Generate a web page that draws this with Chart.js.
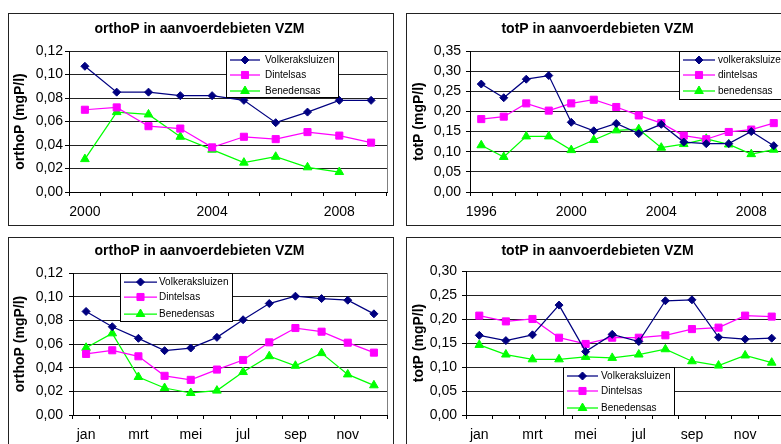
<!DOCTYPE html>
<html>
<head>
<meta charset="utf-8">
<script src="https://cdn.jsdelivr.net/npm/chart.js@4"></script>
<style>
  html, body { margin: 0; padding: 0; background: #fff; overflow: hidden; width: 781px; height: 444px; }
  .panel { position: absolute; border: 1px solid #222; background: #fff; }
  .panel canvas { display: block; }
</style>
</head>
<body>
<div class="panel" style="left:8px;top:13px;"><canvas id="c1" width="384" height="211"></canvas></div>
<div class="panel" style="left:406px;top:13px;"><canvas id="c2" width="384" height="211"></canvas></div>
<div class="panel" style="left:8px;top:237px;"><canvas id="c3" width="384" height="211"></canvas></div>
<div class="panel" style="left:406px;top:237px;"><canvas id="c4" width="384" height="211"></canvas></div>
<script>
// jaargemiddelden orthoP
const jaren1 = ['2000', '2001', '2002', '2003', '2004', '2005', '2006', '2007', '2008', '2009'];
const volk1 = [0.107, 0.085, 0.085, 0.082, 0.082, 0.078, 0.059, 0.068, 0.078, 0.078];
const dint1 = [0.070, 0.072, 0.056, 0.054, 0.038, 0.047, 0.045, 0.051, 0.048, 0.042];
const bene1 = [0.028, 0.068, 0.066, 0.047, 0.036, 0.025, 0.030, 0.021, 0.017, null];

// jaargemiddelden totP
const jaren2 = ['1996', '1997', '1998', '1999', '2000', '2001', '2002', '2003', '2004', '2005', '2006', '2007', '2008', '2009'];
const volk2 = [0.268, 0.234, 0.280, 0.289, 0.173, 0.152, 0.170, 0.145, 0.168, 0.124, 0.120, 0.120, 0.150, 0.115];
const dint2 = [0.181, 0.187, 0.220, 0.202, 0.220, 0.229, 0.211, 0.190, 0.171, 0.140, 0.131, 0.149, 0.155, 0.171];
const bene2 = [0.116, 0.087, 0.138, 0.138, 0.104, 0.129, 0.153, 0.156, 0.110, 0.119, 0.132, 0.118, 0.094, 0.105];

// maandgemiddelden
const maanden = ['jan', 'feb', 'mrt', 'apr', 'mei', 'jun', 'jul', 'aug', 'sep', 'okt', 'nov', 'dec'];
const volk3 = [0.0875, 0.0746, 0.0648, 0.0544, 0.0566, 0.0656, 0.0805, 0.0942, 0.1004, 0.0984, 0.0970, 0.0855];
const dint3 = [0.0516, 0.0547, 0.0496, 0.0331, 0.0297, 0.0384, 0.0465, 0.0614, 0.0735, 0.0704, 0.0611, 0.0527];
const bene3 = [0.0568, 0.0690, 0.0321, 0.0228, 0.0186, 0.0206, 0.0363, 0.0497, 0.0416, 0.0523, 0.0343, 0.0251];

const volk4 = [0.166, 0.155, 0.167, 0.229, 0.132, 0.168, 0.153, 0.238, 0.240, 0.162, 0.158, 0.160];
const dint4 = [0.207, 0.195, 0.200, 0.161, 0.148, 0.161, 0.161, 0.166, 0.179, 0.182, 0.207, 0.205];
const bene4 = [0.146, 0.126, 0.116, 0.116, 0.121, 0.119, 0.126, 0.137, 0.112, 0.103, 0.124, 0.109];

const namen = ['Volkeraksluizen', 'Dintelsas', 'Benedensas'];
const namenKlein = ['volkeraksluizen', 'dintelsas', 'benedensas'];

Chart.defaults.font.family = '"Liberation Sans", Arial, sans-serif';
Chart.defaults.color = '#000';

const stijlen = [
  { color: '#000080', point: 'rectRot', radius: 4 },
  { color: '#FF00FF', point: 'rect', radius: 5 },
  { color: '#00FF00', point: 'triangle', radius: 5 }
];

// right edge of the plot area (excel style)
const plotRand = {
  id: 'plotRand',
  beforeDatasetsDraw(chart) {
    const { ctx, chartArea: a } = chart;
    ctx.save();
    ctx.strokeStyle = '#808080';
    ctx.lineWidth = 1;
    ctx.beginPath();
    ctx.moveTo(Math.round(a.right) + 0.5, a.top);
    ctx.lineTo(Math.round(a.right) + 0.5, a.bottom);
    ctx.stroke();
    ctx.restore();
  }
};

// legend box inside the plot
const boxLegend = {
  id: 'boxLegend',
  afterDatasetsDraw(chart, args, o) {
    const ctx = chart.ctx;
    ctx.save();
    ctx.fillStyle = '#fff';
    ctx.fillRect(o.x, o.y, o.w, o.h);
    ctx.strokeStyle = '#000';
    ctx.lineWidth = 1;
    ctx.strokeRect(o.x + 0.5, o.y + 0.5, o.w, o.h);
    chart.data.datasets.forEach((ds, i) => {
      const y = o.rows[i];
      ctx.strokeStyle = ds.borderColor;
      ctx.lineWidth = 1.25;
      ctx.beginPath();
      ctx.moveTo(o.l1, y);
      ctx.lineTo(o.l2, y);
      ctx.stroke();
      ctx.fillStyle = ds.pointBackgroundColor;
      ctx.strokeStyle = ds.pointBorderColor;
      ctx.lineWidth = 1;
      Chart.helpers.drawPoint(ctx, { pointStyle: ds.pointStyle, radius: ds.pointRadius, borderWidth: 1, rotation: 0 }, (o.l1 + o.l2) / 2, y);
      ctx.fillStyle = '#000';
      ctx.font = '10px "Liberation Sans", Arial, sans-serif';
      ctx.textBaseline = 'middle';
      ctx.textAlign = 'left';
      ctx.fillText(ds.label, o.tx, y);
    });
    ctx.restore();
  }
};

function maakGrafiek(id, labels, reeksen, labelNamen, c) {
  new Chart(document.getElementById(id), {
    type: 'line',
    data: {
      labels: labels,
      datasets: reeksen.map((d, i) => ({
        label: labelNamen[i],
        data: d,
        borderColor: stijlen[i].color,
        backgroundColor: stijlen[i].color,
        pointBackgroundColor: stijlen[i].color,
        pointBorderColor: stijlen[i].color,
        pointStyle: stijlen[i].point,
        pointRadius: stijlen[i].radius,
        pointBorderWidth: 1,
        borderWidth: 1.25,
        tension: 0
      }))
    },
    options: {
      responsive: false,
      animation: false,
      layout: { padding: { left: 0, right: 3, top: 0, bottom: 0 } },
      plugins: {
        legend: { display: false },
        tooltip: { enabled: false },
        title: {
          display: true,
          text: c.titel,
          color: '#000',
          font: { size: 14, weight: 'bold' },
          padding: c.titelPad
        },
        boxLegend: c.legend
      },
      scales: {
        x: {
          offset: true,
          grid: { offset: true, drawOnChartArea: false, drawTicks: true, tickLength: 4, tickColor: '#000' },
          border: { color: '#000', width: 1 },
          ticks: {
            autoSkip: false,
            maxRotation: 0,
            padding: 8,
            color: '#000',
            font: { size: 14 },
            callback: function (v, i) { return i % c.elke === 0 ? this.getLabelForValue(v) : ''; }
          },
          afterFit: s => { s.height = c.xHoogte; }
        },
        y: {
          min: 0,
          max: c.yMax,
          ticks: {
            stepSize: c.stap,
            padding: c.tickPad,
            color: '#000',
            font: { size: 14 },
            callback: v => v.toFixed(2).replace('.', ',')
          },
          grid: { color: '#222', lineWidth: 1, tickLength: 4, tickColor: '#000' },
          border: { color: '#000', width: 1 },
          title: {
            display: true,
            text: c.yTitel,
            color: '#000',
            font: { size: 14, weight: 'bold' },
            padding: { top: c.yTitelPad, bottom: 0 }
          },
          afterFit: s => { s.width = c.yBreedte; }
        }
      }
    },
    plugins: [plotRand, boxLegend]
  });
}

maakGrafiek('c1', jaren1, [volk1, dint1, bene1], namen, {
  titel: 'orthoP in aanvoerdebieten VZM', yTitel: 'orthoP (mgP/l)',
  titelPad: { top: 6.6, bottom: 13.6 }, yTitelPad: 2.6, yBreedte: 60, tickPad: 2, xHoogte: 33,
  yMax: 0.12, stap: 0.02, elke: 4,
  legend: { x: 217, y: 37, w: 112, h: 46, rows: [46, 61, 77], l1: 221, l2: 251, tx: 256 }
});

maakGrafiek('c2', jaren2, [volk2, dint2, bene2], namenKlein, {
  titel: 'totP in aanvoerdebieten VZM', yTitel: 'totP (mgP/l)',
  titelPad: { top: 6.6, bottom: 13.6 }, yTitelPad: 3.6, yBreedte: 63, tickPad: 5, xHoogte: 33,
  yMax: 0.35, stap: 0.05, elke: 4,
  legend: { x: 272, y: 37, w: 111, h: 48, rows: [46, 61, 77], l1: 276, l2: 308, tx: 311 }
});

maakGrafiek('c3', maanden, [volk3, dint3, bene3], namen, {
  titel: 'orthoP in aanvoerdebieten VZM', yTitel: 'orthoP (mgP/l)',
  titelPad: { top: 4.9, bottom: 13.3 }, yTitelPad: 2.6, yBreedte: 64, tickPad: 6, xHoogte: 34,
  yMax: 0.12, stap: 0.02, elke: 2,
  legend: { x: 111, y: 35, w: 112, h: 48, rows: [44, 59, 76], l1: 115, l2: 148, tx: 150 }
});

maakGrafiek('c4', maanden, [volk4, dint4, bene4], namen, {
  titel: 'totP in aanvoerdebieten VZM', yTitel: 'totP (mgP/l)',
  titelPad: { top: 4.9, bottom: 11.3 }, yTitelPad: 3.6, yBreedte: 59, tickPad: 5, xHoogte: 34,
  yMax: 0.30, stap: 0.05, elke: 2,
  legend: { x: 156, y: 129, w: 111, h: 48, rows: [138, 153, 170], l1: 160, l2: 191, tx: 194 }
});
</script>
</body>
</html>
